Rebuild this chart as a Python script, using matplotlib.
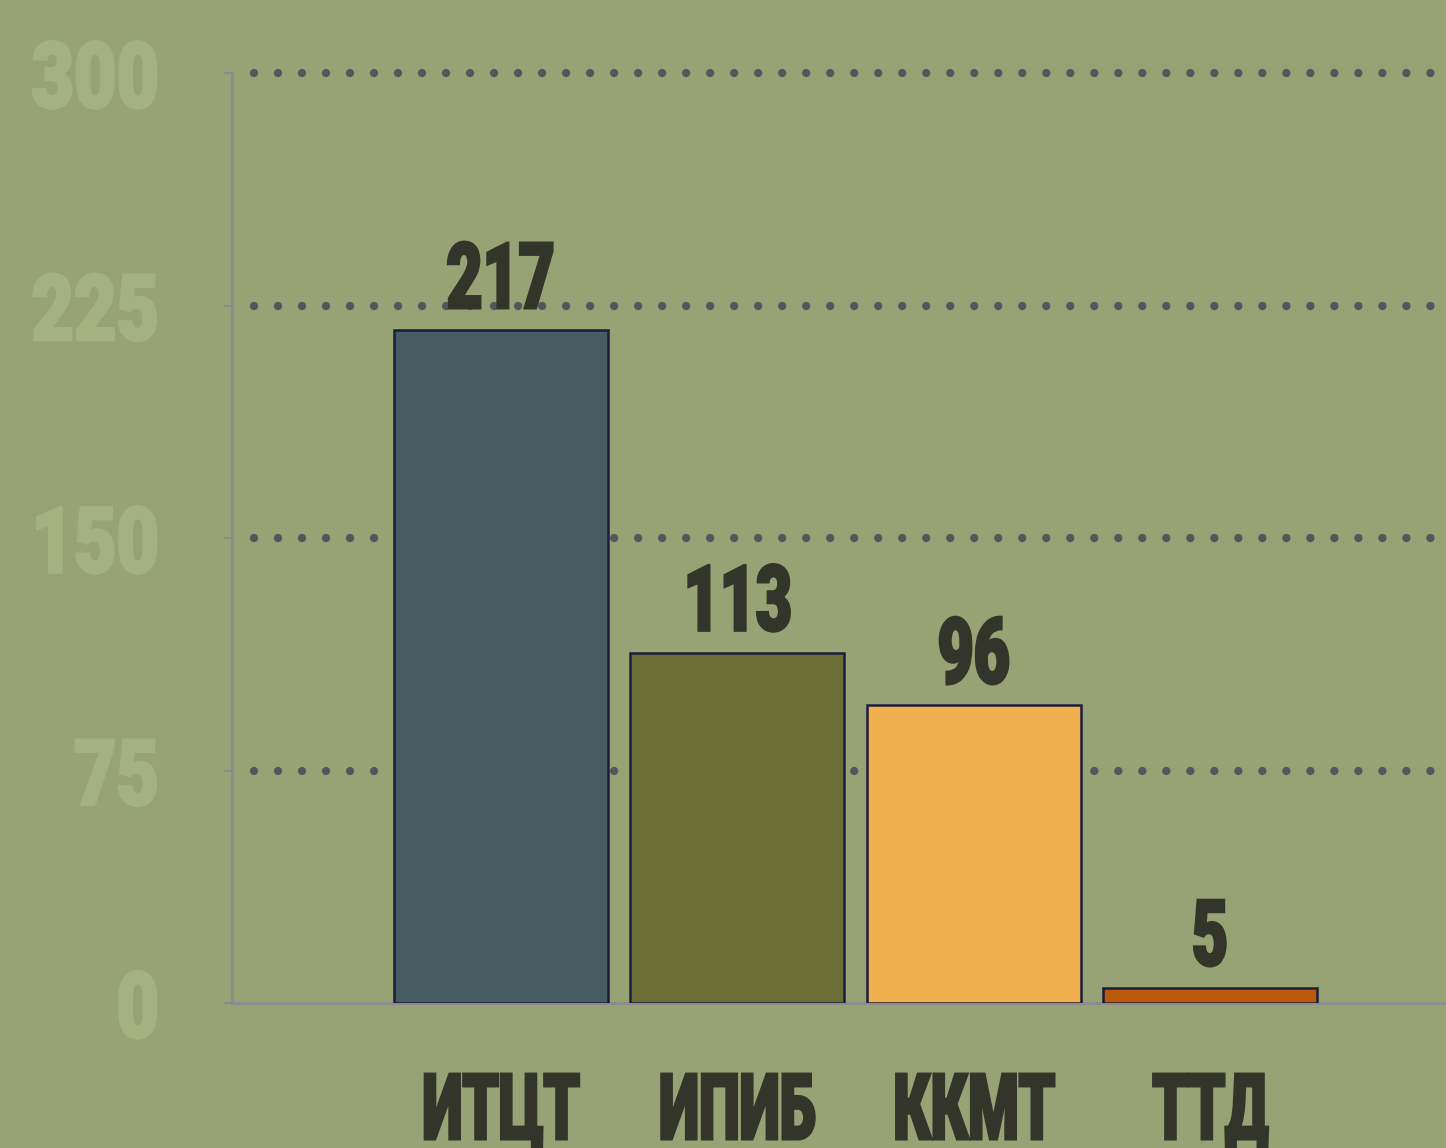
import matplotlib
matplotlib.use("Agg")
import matplotlib.pyplot as plt
from matplotlib.patheffects import AbstractPathEffect
from matplotlib.transforms import Affine2D

categories = ["ИТЦТ", "ИПИБ", "ККМТ", "ТТД"]
values = [217, 113, 96, 5]
bar_colors = ["#465e62", "#6b6f37", "#f0b04e", "#bc5a0c"]
yticks = [0, 75, 150, 225, 300]

BG = "#97a375"
plt.rcParams["font.family"] = ["Roboto", "DejaVu Sans"]


class Condense(AbstractPathEffect):
    """Squeeze glyphs horizontally to mimic a condensed heavy typeface."""

    def __init__(self, sx=0.7, anchor="center", stroke=1.0):
        super().__init__()
        self.sx = sx
        self.anchor = anchor
        self.stroke = stroke

    def draw_path(self, renderer, gc, tpath, affine, rgbFace=None):
        ext = tpath.get_extents(affine)
        if self.anchor == "right":
            cx = ext.x1
        elif self.anchor == "left":
            cx = ext.x0
        else:
            cx = 0.5 * (ext.x0 + ext.x1)
        aff = affine + Affine2D().translate(-cx, 0).scale(self.sx, 1).translate(cx, 0)
        gc0 = renderer.new_gc()
        gc0.copy_properties(gc)
        gc0.set_linewidth(self.stroke)
        gc0.set_joinstyle("miter")
        if rgbFace is not None:
            gc0.set_foreground(rgbFace)
        renderer.draw_path(gc0, tpath, aff, rgbFace)
        gc0.restore()


fig = plt.figure(figsize=(14.46, 11.48), dpi=100, facecolor=BG)
ax = fig.add_axes([232 / 1446, 145 / 1148, 1 - 232 / 1446, 930 / 1148])
ax.set_facecolor(BG)

x = list(range(len(categories)))
ax.bar(x, values, width=0.905, color=bar_colors, edgecolor="#1c1c3c",
       linewidth=1.8, zorder=3)

for yv in yticks[1:]:
    ax.axhline(yv, color="#55565c", linewidth=6.0, linestyle=(0, (0.001, 2.88)),
               dash_capstyle="round", zorder=1, xmin=0.018, clip_on=False)

for xi, v in zip(x, values):
    ax.annotate(str(v), (xi, v), xytext=(0, 16), textcoords="offset points",
                ha="center", va="baseline", fontsize=66, fontweight="black",
                color="#33352a", zorder=5,
                path_effects=[Condense(0.68, "center", 2.0)])

ax.set_xlim(-1.137, 3.998)
ax.set_ylim(0, 300)
ax.set_yticks(yticks)
ax.set_yticklabels([str(t) for t in yticks], fontsize=66, fontweight="black",
                   color="#a4b281")
for lab in ax.get_yticklabels():
    lab.set_path_effects([Condense(0.8, "right", 2.0)])
ax.tick_params(axis="y", length=6, width=1.5, color="#8c8c8c", pad=46)
ax.set_xticks(x)
ax.set_xticklabels(categories, fontsize=66, fontweight="black", color="#33352a",
                   va="baseline")
for lab in ax.get_xticklabels():
    lab.set_path_effects([Condense(0.63, "center", 2.0)])
ax.tick_params(axis="x", length=0, pad=98)

for s in ["top", "right"]:
    ax.spines[s].set_visible(False)
for s in ["left", "bottom"]:
    ax.spines[s].set_color("#8c8c8c")
    ax.spines[s].set_linewidth(2.2)

fig.savefig("out.png", dpi=100, facecolor=BG)
